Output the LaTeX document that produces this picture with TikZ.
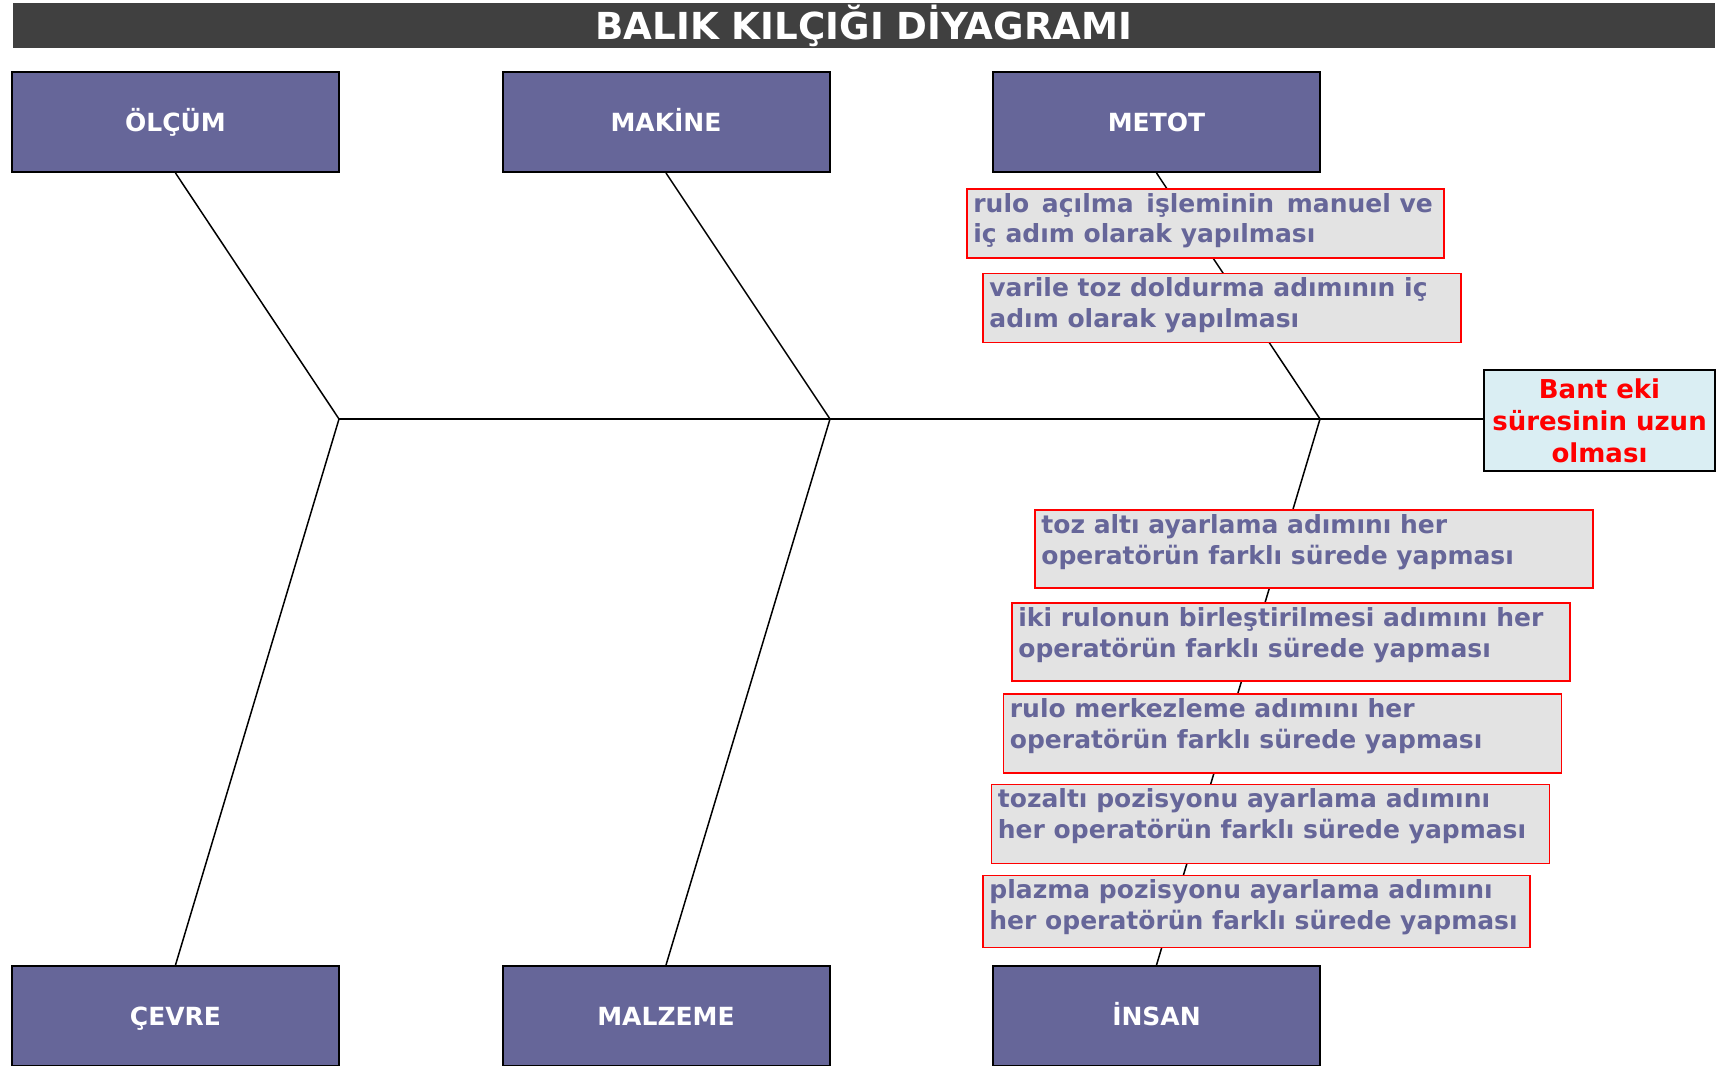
\documentclass[tikz,border=0pt]{standalone}
\usepackage{fontspec}
\setmainfont{DejaVu Sans}
\definecolor{causefill}{HTML}{666699}
\definecolor{titlefill}{HTML}{404040}
\definecolor{labfill}{HTML}{E3E3E3}
\definecolor{effectfill}{HTML}{DAEEF3}
\definecolor{labtextc}{HTML}{666699}
\definecolor{effred}{HTML}{FF0000}
\begin{document}
\begin{tikzpicture}[x=0.5pt,y=-0.5pt,
  cause/.style={draw=black, line width=1pt, fill=causefill, text=white,
    font=\bfseries\fontsize{12.5}{15}\selectfont, minimum width=163.5pt, minimum height=50pt, inner sep=0pt,
    text height=9.1pt, text depth=0pt},
  bone/.style={draw=black, line width=0.75pt},
  spine/.style={draw=black, line width=1.1pt},
  labbox/.style={draw=red, line width=0.8pt, fill=labfill, inner sep=0pt, anchor=north west},
  labtext/.style={text=labtextc, font=\bfseries\fontsize{12.5}{15.3}\selectfont, align=left, inner sep=0pt, anchor=north west},
  effect/.style={draw=black, line width=1pt, fill=effectfill, text=effred, align=center,
    font=\bfseries\fontsize{13}{16}\selectfont, minimum width=115.5pt, minimum height=50.5pt, inner sep=0pt}
]
\useasboundingbox (0,0) rectangle (1716,1065);
\fill[white] (0,0) rectangle (1716,1065);

% title
\node[fill=titlefill, minimum width=851pt, minimum height=22.5pt, inner sep=0pt, text=white,
  font=\bfseries\fontsize{18.6}{20}\selectfont] (title) at (864,25.5) {BALIK KILÇIĞI DİYAGRAMI};

% junctions
\coordinate (j1) at (339,419);
\coordinate (j2) at (830,419);
\coordinate (j3) at (1320,419);

% effect
\node[effect] (effect) at (1599.5,420.5) {Bant eki\\süresinin uzun\\olması};

% cause boxes
\node[cause] (olcum) at (175.5,122) {ÖLÇÜM};
\node[cause] (makine) at (666,122) {MAKİNE};
\node[cause] (metot) at (1156.5,122) {METOT};
\node[cause] (cevre) at (175.5,1016) {ÇEVRE};
\node[cause] (malzeme) at (666,1016) {MALZEME};
\node[cause] (insan) at (1156.5,1016) {İNSAN};

% bones
\draw[spine] (j1) -- (j1 -| effect.west);
\draw[bone] (olcum.south) -- (j1);
\draw[bone] (cevre.north) -- (j1);
\draw[bone] (makine.south) -- (j2);
\draw[bone] (malzeme.north) -- (j2);
\draw[bone] (metot.south) -- (j3);
\draw[bone] (insan.north) -- (j3);

% labels
\node[labbox, minimum width=238.5pt, minimum height=34.5pt] (l1) at (966,188) {};
\node[labtext] at ([shift={(7,5)}]l1.north west) {rulo\hspace{2pt} açılma\hspace{2pt} işleminin\hspace{2pt} manuel ve\\iç adım olarak yapılması};

\node[labbox, minimum width=239pt, minimum height=34.5pt] (l2) at (982,272.5) {};
\node[labtext] at ([shift={(7,5)}]l2.north west) {varile toz doldurma adımının iç\\adım olarak yapılması};

\node[labbox, minimum width=279pt, minimum height=39pt] (l3) at (1034,509) {};
\node[labtext] at ([shift={(7,5)}]l3.north west) {toz altı ayarlama adımını her\\operatörün farklı sürede yapması};

\node[labbox, minimum width=279pt, minimum height=39pt] (l4) at (1011,602) {};
\node[labtext] at ([shift={(7,5)}]l4.north west) {iki rulonun birleştirilmesi adımını her\\operatörün farklı sürede yapması};

\node[labbox, minimum width=279pt, minimum height=39.5pt] (l5) at (1002.5,693) {};
\node[labtext] at ([shift={(7,5)}]l5.north west) {rulo merkezleme adımını her\\operatörün farklı sürede yapması};

\node[labbox, minimum width=279pt, minimum height=39.5pt] (l6) at (990.5,783.5) {};
\node[labtext] at ([shift={(7,5)}]l6.north west) {tozaltı pozisyonu ayarlama adımını\\her operatörün farklı sürede yapması};

\node[labbox, minimum width=273.5pt, minimum height=36pt] (l7) at (982,874.5) {};
\node[labtext] at ([shift={(7,5)}]l7.north west) {plazma pozisyonu ayarlama adımını\\her operatörün farklı sürede yapması};
\end{tikzpicture}
\end{document}
